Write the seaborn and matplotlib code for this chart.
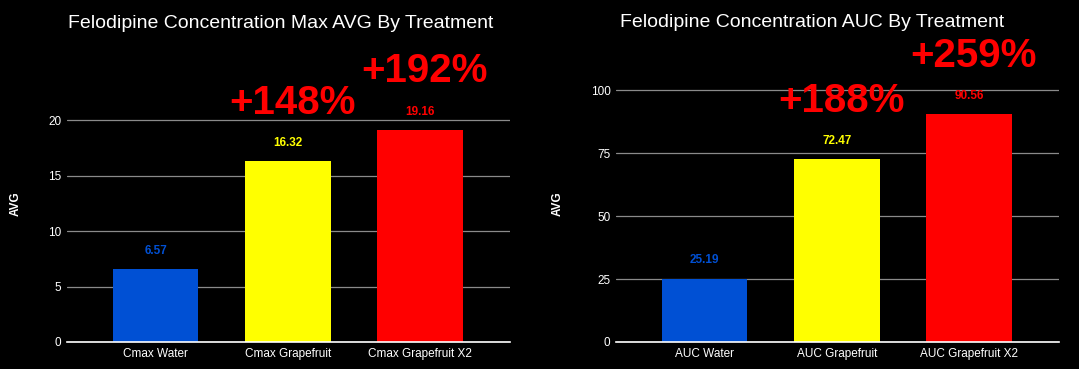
import pandas as pd
import matplotlib.pyplot as plt
import seaborn as sns

# Chart data
cmax_labels = ['Cmax Water', 'Cmax Grapefruit', 'Cmax Grapefruit X2']
cmax_values = [6.57, 16.32, 19.16]
cmax_pct = ['', '+148%', '+192%']

auc_labels = ['AUC Water', 'AUC Grapefruit', 'AUC Grapefruit X2']
auc_values = [25.19, 72.47, 90.56]
auc_pct = ['', '+188%', '+259%']

bar_colors = ['#0050D4', '#FFFF00', '#FF0000']

sns.set_theme(style='dark')
plt.rcParams['font.family'] = ['Liberation Sans', 'DejaVu Sans']


def draw_panel(ax, labels, values, pct, ylim, yticks):
    df = pd.DataFrame({'cat': labels, 'val': values})
    sns.barplot(data=df, x='cat', y='val', hue='cat', palette=bar_colors,
                width=0.645, saturation=1, linewidth=0, legend=False, ax=ax, zorder=3)
    ax.set_facecolor('black')
    ax.set_xlim(-0.67, 2.68)
    ax.set_ylim(*ylim)
    ax.set_yticks(yticks)
    ax.grid(axis='y', color='#8a8a8a', linewidth=0.9, zorder=0)
    ax.grid(axis='x', visible=False)
    for s in ['left', 'right', 'top']:
        ax.spines[s].set_visible(False)
    ax.spines['bottom'].set_color('white')
    ax.spines['bottom'].set_linewidth(1.2)
    ax.spines['bottom'].set_zorder(4)
    ax.tick_params(axis='both', colors='white', labelsize=8.5, length=0, pad=4)
    ax.set_xlabel('')
    ax.set_ylabel('AVG', color='white', fontsize=8.5, fontweight='bold', labelpad=19)

    for i, v in enumerate(values):
        ax.annotate(f'{v:.2f}', (i, v), xytext=(0, 13), textcoords='offset points',
                    ha='center', va='center', color=bar_colors[i],
                    fontsize=8.5, fontweight='bold')
        if pct[i]:
            ax.annotate(pct[i], (i, v), xytext=(3, 42), textcoords='offset points',
                        ha='center', va='center', color='#FF0000',
                        fontsize=29, fontweight='bold')


fig = plt.figure(figsize=(10.79, 3.69), dpi=100, facecolor='black')
ax1 = fig.add_axes([0.0621, 0.0732, 0.4106, 0.751])
ax2 = fig.add_axes([0.5709, 0.0732, 0.4106, 0.751])

draw_panel(ax1, cmax_labels, cmax_values, cmax_pct, (0, 25), [0, 5, 10, 15, 20])
draw_panel(ax2, auc_labels, auc_values, auc_pct, (0, 110), [0, 25, 50, 75, 100])

fig.text(0.2604, 0.935, 'Felodipine Concentration Max AVG By Treatment',
         color='white', fontsize=14, ha='center', va='center')
fig.text(0.7526, 0.938, 'Felodipine Concentration AUC By Treatment',
         color='white', fontsize=14, ha='center', va='center')

fig.savefig('out.png', dpi=100, facecolor='black')
